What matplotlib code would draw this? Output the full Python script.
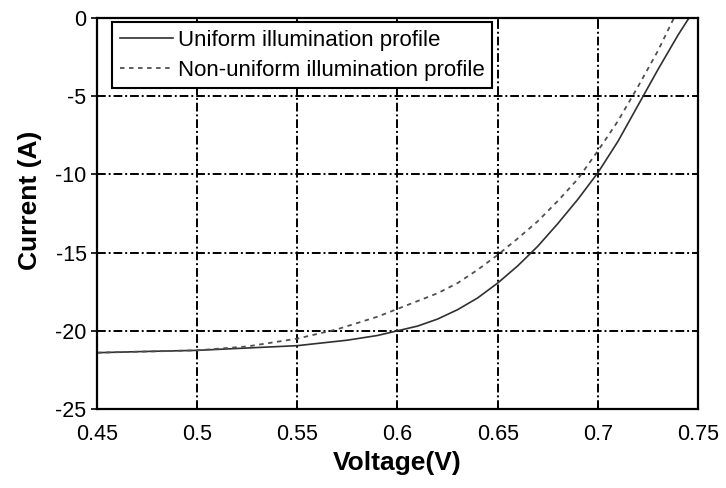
import matplotlib
matplotlib.use("Agg")
import matplotlib.pyplot as plt

plt.rcParams['font.family'] = ['Liberation Sans', 'DejaVu Sans']
plt.rcParams['axes.unicode_minus'] = False

# I-V curves of the cell under two illumination profiles
v_uniform = [0.45, 0.475, 0.5, 0.525, 0.55, 0.575, 0.59, 0.6, 0.61, 0.62, 0.63, 0.64,
             0.65, 0.66, 0.67, 0.68, 0.69, 0.70, 0.71, 0.72, 0.73, 0.74, 0.7455]
i_uniform = [-21.4, -21.32, -21.25, -21.1, -20.95, -20.6, -20.3, -20.0, -19.7, -19.25,
             -18.65, -17.9, -16.95, -15.85, -14.6, -13.15, -11.6, -9.9, -7.9, -5.6,
             -3.3, -1.1, 0.0]

v_nonuni = [0.45, 0.5, 0.525, 0.55, 0.56, 0.57, 0.58, 0.59, 0.6, 0.61, 0.62, 0.63,
            0.64, 0.65, 0.66, 0.67, 0.68, 0.69, 0.70, 0.71, 0.72, 0.73, 0.738]
i_nonuni = [-21.4, -21.25, -21.0, -20.5, -20.2, -19.9, -19.5, -19.1, -18.6, -18.1,
            -17.6, -16.95, -16.1, -15.15, -14.1, -13.0, -11.7, -10.3, -8.5, -6.6,
            -4.4, -2.1, 0.0]

xticks = [0.45, 0.5, 0.55, 0.6, 0.65, 0.7, 0.75]
yticks = [0, -5, -10, -15, -20, -25]

fig = plt.figure(figsize=(7.26, 4.88), dpi=100)
ax = fig.add_axes([0.1336, 0.1619, 0.8278, 0.8012])

ax.plot(v_uniform, i_uniform, color='#303030', lw=1.2, label='Uniform illumination profile')
ax.plot(v_nonuni, i_nonuni, color='#505050', lw=1.3, linestyle=(0, (2.5, 2.5)),
        label='Non-uniform illumination profile')

ax.set_xlim(0.45, 0.75)
ax.set_ylim(-25, 0)
ax.set_xticks(xticks)
ax.set_xticklabels([f'{t:g}' for t in xticks])
ax.set_yticks(yticks)
ax.set_yticklabels([str(t) for t in yticks])

ax.grid(True, color='black', lw=1.4, linestyle=(0, (4.5, 1.5, 1, 1.5)))
ax.tick_params(axis='x', direction='in', top=True, labelsize=15.5, length=4, width=1.2, pad=11)
ax.tick_params(axis='y', direction='out', labelsize=15.5, length=4.5, width=1.2, pad=3)
for s in ax.spines.values():
    s.set_linewidth(1.6)

ax.set_xlabel('Voltage(V)', fontsize=19, fontweight='bold', labelpad=4)
ax.set_ylabel('Current (A)', fontsize=19, fontweight='bold')
ax.yaxis.set_label_coords(-0.092, 0.535)

leg = ax.legend(loc='upper left', bbox_to_anchor=(0.025, 0.99), fontsize=16,
                frameon=True, fancybox=False, edgecolor='black', framealpha=1,
                handlelength=2.4, handletextpad=0.2, borderpad=0.35, labelspacing=0.4,
                borderaxespad=0)
leg.get_frame().set_linewidth(1.5)

fig.savefig('out.png', dpi=100)
